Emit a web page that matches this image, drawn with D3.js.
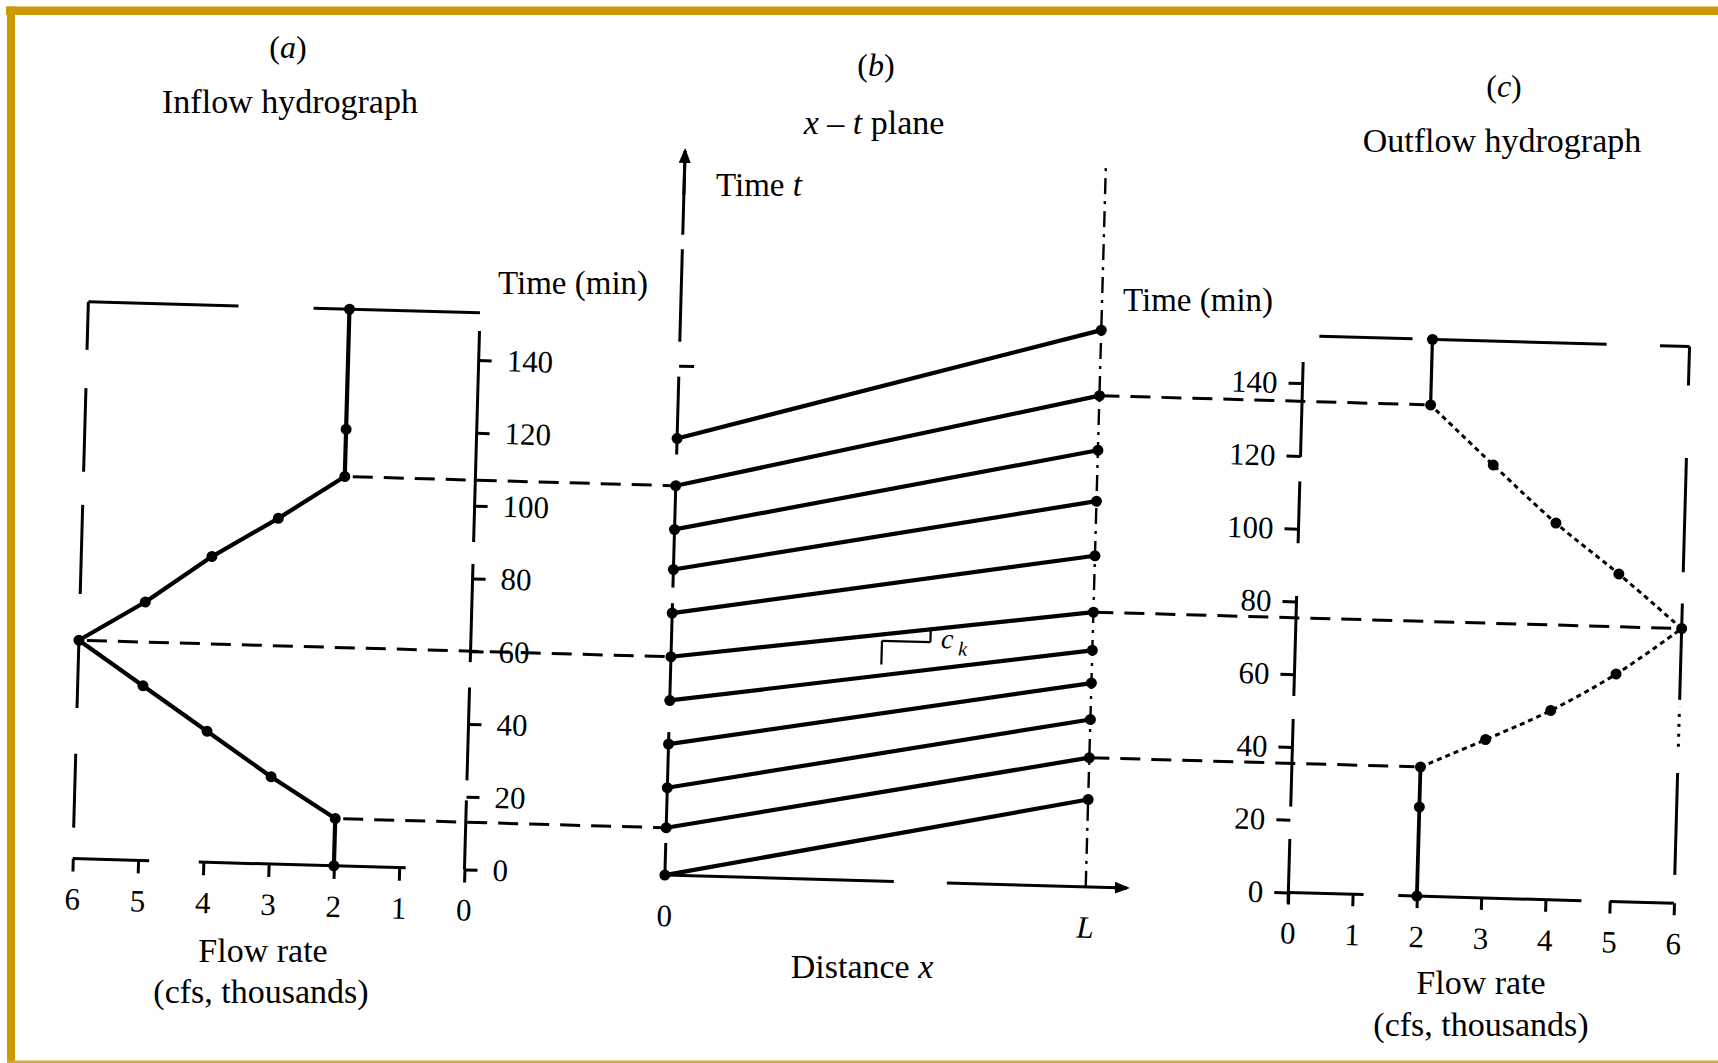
<!DOCTYPE html>
<html>
<head>
<meta charset="utf-8">
<script src="https://cdn.jsdelivr.net/npm/d3@7"></script>
<style>
  body { margin: 0; background: #fff; }
  svg { display: block; }
  text { font-family: "Liberation Serif", "Times New Roman", serif; fill: #000; }
</style>
</head>
<body>
<svg id="chart" width="1718" height="1063"></svg>
<script>
// ---------------- DATA ----------------
// (a) Inflow hydrograph: time (min) and flow (cfs, thousands)
const inflowTime = [0, 13, 24, 36, 48, 60, 71, 84, 95, 107, 120, 153];
const inflowFlow = [2, 2, 3, 4, 5, 6, 5, 4, 3, 2, 2, 2];
// (b) x-t plane: kinematic characteristics, time at x = 0 and time at x = L
const charStartTime = [0, 13, 24, 36, 48, 60, 72, 84, 95, 107, 120];
const charEndTime = [24, 35.5, 46, 56, 65, 75.5, 91, 106, 120, 135, 153];
// (c) Outflow hydrograph
const outflowTime = [0, 24.5, 35.5, 43.5, 52, 62.5, 75.5, 90, 103.5, 119, 135, 153];
const outflowFlow = [2, 2, 2, 3, 4, 5, 6, 5, 4, 3, 2, 2];
// Tick values / labels
const timeTicks = [0, 20, 40, 60, 80, 100, 120, 140];
const flowTicks = [0, 1, 2, 3, 4, 5, 6];
const distanceTicks = [0, 1];
const distanceTickLabels = ["0", "L"];
// dashed projections (indices into inflow / outflow arrays)
const inflowLinks = [1, 5, 9];
const outflowLinks = [2, 6, 10];
// c_k slope sketch in the x-t plane (distance fraction, time)
const ckU = [0.5, 0.615];
const ckT = [59.5, 66];
const frameTopTime = 153;
const planeTopTime = 199;
const planeDistMax = 1.098;
// visible pieces of the scanned lines (data units)
const inflowTimeAxisSpans = [[0, 19], [24.5, 50], [57, 84], [90, 148]];
const inflowFlowAxisSpans = [[0.9, 4.07], [4.83, 6]];
const inflowTopSpans = [[0, 2.55], [3.7, 6]];
const inflowPeakLineSpans = [[8.5, 28.8], [41.4, 58.7], [72.7, 97.2], [106.3, 129.3], [139.8, 153]];
const planeTimeAxisSpans = [[0, 8.8], [13.2, 39.3], [48, 74.7], [79, 107], [115.6, 137], [146.6, 172], [176, 199]];
const planeDistAxisSpans = [[0, 0.544], [0.67, 1.098]];
const outflowTimeAxisSpans = [[-3, 14.7], [23.6, 47.7], [54, 81.5], [96, 113], [119.7, 145.8]];
const outflowFlowAxisSpans = [[0, 1.17], [1.71, 4.56], [5, 6]];
const outflowTopSpans = [[0.24, 1.69], [2.05, 4.71], [5.54, 6]];
const outflowPeakLineSpans = [[7.8, 35.8], [55.9, 82.4], [91, 122.4], [142.3, 153]];
const outflowPeakLineDotted = [[43, 54]];

// ---------------- DRAWING ----------------
const svg = d3.select("#chart");
svg.append("rect").attr("width", 1718).attr("height", 1063).attr("fill", "#fff");
const gold = "#CC9A06";
svg.append("rect").attr("x", 6).attr("y", 6.5).attr("width", 1712).attr("height", 8.5).attr("fill", gold);
svg.append("rect").attr("x", 7).attr("y", 6.5).attr("width", 8).attr("height", 1056.5).attr("fill", gold);
svg.append("rect").attr("x", 7).attr("y", 1060.5).attr("width", 1711).attr("height", 2.5).attr("fill", "#D2AA3C");

// scanned figure is slightly rotated
const g = svg.append("g").attr("transform", "rotate(1.6,464.5,868)");

const yT = d3.scaleLinear().domain([0, 140]).range([869.5, 869.5 - 3.64 * 140]);
const xA = d3.scaleLinear().domain([0, 6]).range([464.5, 72.7]);
const xB = d3.scaleLinear().domain([0, 1]).range([665, 1086]);
const xC = d3.scaleLinear().domain([0, 6]).range([1288.7, 1674.5]);
const intFmt = d3.format("d");

function line(x1, y1, x2, y2, w, dash) {
  const l = g.append("line").attr("x1", x1).attr("y1", y1).attr("x2", x2).attr("y2", y2)
    .attr("stroke", "#000").attr("stroke-width", w);
  if (dash) l.attr("stroke-dasharray", dash);
  return l;
}
function vSpans(xpx, spans, w, dash) { spans.forEach(s => line(xpx, yT(s[0]), xpx, yT(s[1]), w, dash)); }
function hSpans(scale, ypx, spans, w, dash) { spans.forEach(s => line(scale(s[0]), ypx, scale(s[1]), ypx, w, dash)); }
function styleAxis(sel, fs) {
  sel.select(".domain").remove();
  sel.attr("font-family", '"Liberation Serif", "Times New Roman", serif').attr("font-size", fs);
  sel.selectAll(".tick line").attr("stroke", "#000").attr("stroke-width", 3);
  sel.selectAll(".tick text").attr("fill", "#000");
}
function dots(data, xs, ys, r) {
  g.append("g").selectAll("circle").data(data).join("circle")
    .attr("cx", xs).attr("cy", ys).attr("r", r).attr("fill", "#000");
}

// arrow marker
const defs = svg.append("defs");
defs.append("marker").attr("id", "arrow").attr("viewBox", "0 0 10 10").attr("refX", 8).attr("refY", 5)
  .attr("markerWidth", 5).attr("markerHeight", 5).attr("orient", "auto").attr("markerUnits", "strokeWidth")
  .append("path").attr("d", "M0,1 L10,5 L0,9 Z").attr("fill", "#000");

// ---------- (a) Inflow hydrograph ----------
const axA = g.append("g").attr("transform", `translate(${xA(0)},0)`)
  .call(d3.axisRight(yT).tickValues(timeTicks).tickFormat(intFmt).tickSize(13).tickPadding(15));
styleAxis(axA, 31);
vSpans(xA(0), inflowTimeAxisSpans, 3);
const axAx = g.append("g").attr("transform", `translate(0,${yT(0)})`)
  .call(d3.axisBottom(xA).tickValues(flowTicks).tickFormat(intFmt).tickSize(13).tickPadding(16));
styleAxis(axAx, 31);
hSpans(xA, yT(0), inflowFlowAxisSpans, 3);
hSpans(xA, yT(frameTopTime), inflowTopSpans, 3);
vSpans(xA(6), inflowPeakLineSpans, 3);

const inflowPts = inflowTime.map((t, i) => ({ t, q: inflowFlow[i] }));
g.append("path").datum(inflowPts)
  .attr("d", d3.line().x(d => xA(d.q)).y(d => yT(d.t)))
  .attr("fill", "none").attr("stroke", "#000").attr("stroke-width", 4.2).attr("stroke-linejoin", "round");
dots(inflowPts, d => xA(d.q), d => yT(d.t), 5.5);

// ---------- (b) x - t plane ----------
vSpans(xB(0), planeTimeAxisSpans, 3);
line(xB(0), yT(planeTopTime - 12), xB(0), yT(planeTopTime), 3).attr("marker-end", "url(#arrow)");
const axBt = g.append("g").attr("transform", `translate(${xB(0)},0)`)
  .call(d3.axisRight(yT).tickValues([140]).tickSize(15).tickFormat(""));
styleAxis(axBt, 31);
hSpans(xB, yT(0), planeDistAxisSpans, 3);
line(xB(planeDistMax - 0.03), yT(0), xB(planeDistMax), yT(0), 3).attr("marker-end", "url(#arrow)");
line(xB(1), yT(0), xB(1), yT(planeTopTime), 2.4, "16,7,3,7");
const axBx = g.append("g").attr("transform", `translate(0,${yT(0)})`)
  .call(d3.axisBottom(xB).tickValues(distanceTicks).tickSize(0).tickPadding(29)
    .tickFormat((d, i) => distanceTickLabels[i]));
styleAxis(axBx, 31);
axBx.selectAll(".tick text").filter((d, i) => i === 1).attr("font-style", "italic");

const chars = charStartTime.map((t, i) => ({ t0: t, t1: charEndTime[i] }));
g.append("g").selectAll("line").data(chars).join("line")
  .attr("x1", xB(0)).attr("y1", d => yT(d.t0)).attr("x2", xB(1)).attr("y2", d => yT(d.t1))
  .attr("stroke", "#000").attr("stroke-width", 4.2);
dots(chars, () => xB(0), d => yT(d.t0), 5.5);
dots(chars, () => xB(1), d => yT(d.t1), 5.5);

// c_k slope sketch on the characteristic starting at 60 min
const ckLine = chars[5];
const tOnLine = u => ckLine.t0 + (ckLine.t1 - ckLine.t0) * u;
line(xB(ckU[0]), yT(ckT[1]), xB(ckU[1]), yT(ckT[1]), 2.2);
line(xB(ckU[1]), yT(ckT[1]), xB(ckU[1]), yT(tOnLine(ckU[1])), 2.2);
line(xB(ckU[0]), yT(ckT[1]), xB(ckU[0]), yT(ckT[0]), 2.2);
const ck = g.append("text").attr("x", xB(0.64)).attr("y", yT(64.5)).attr("font-size", 28);
ck.append("tspan").attr("font-style", "italic").text("c");
ck.append("tspan").attr("font-style", "italic").attr("font-size", 20).attr("dx", 5).attr("dy", 7).text("k");

// ---------- (c) Outflow hydrograph ----------
const axC = g.append("g").attr("transform", `translate(${xC(0)},0)`)
  .call(d3.axisLeft(yT).tickValues(timeTicks).tickFormat(intFmt).tickSize(14).tickPadding(11));
styleAxis(axC, 31);
vSpans(xC(0), outflowTimeAxisSpans, 3);
const axCx = g.append("g").attr("transform", `translate(0,${yT(0)})`)
  .call(d3.axisBottom(xC).tickValues(flowTicks).tickFormat(intFmt).tickSize(12).tickPadding(17));
styleAxis(axCx, 31);
hSpans(xC, yT(0), outflowFlowAxisSpans, 3);
hSpans(xC, yT(frameTopTime), outflowTopSpans, 3);
vSpans(xC(6), outflowPeakLineSpans, 3);
vSpans(xC(6), outflowPeakLineDotted, 3, "3,7");

const outPts = outflowTime.map((t, i) => ({ t, q: outflowFlow[i] }));
const outLine = d3.line().x(d => xC(d.q)).y(d => yT(d.t));
const outCurve = d3.line().x(d => xC(d.q)).y(d => yT(d.t)).curve(d3.curveCatmullRom);
g.append("path").datum(outPts.slice(0, 3)).attr("d", outLine)
  .attr("fill", "none").attr("stroke", "#000").attr("stroke-width", 3.8);
g.append("path").datum(outPts.slice(10)).attr("d", outLine)
  .attr("fill", "none").attr("stroke", "#000").attr("stroke-width", 3.2);
g.append("path").datum(outPts.slice(2, 7)).attr("d", outCurve)
  .attr("fill", "none").attr("stroke", "#000").attr("stroke-width", 3).attr("stroke-dasharray", "5,4");
g.append("path").datum(outPts.slice(6, 11)).attr("d", outCurve)
  .attr("fill", "none").attr("stroke", "#000").attr("stroke-width", 3).attr("stroke-dasharray", "5,4");
dots(outPts, d => xC(d.q), d => yT(d.t), 5.5);

// ---------- dashed projections ----------
inflowLinks.forEach(i => {
  line(xA(inflowFlow[i]) + 8, yT(inflowTime[i]), xB(0), yT(inflowTime[i]), 3, "20,11");
});
outflowLinks.forEach(i => {
  line(xB(1), yT(outflowTime[i]), xC(outflowFlow[i]) - 6, yT(outflowTime[i]), 3, "20,11");
});

// ---------- titles & axis names ----------
function label(x, y, size, parts, anchor) {
  const t = svg.append("text").attr("x", x).attr("y", y).attr("font-size", size)
    .attr("text-anchor", anchor || "middle");
  parts.forEach(p => {
    const s = t.append("tspan").text(p[0]);
    if (p[1]) s.attr("font-style", "italic");
  });
  return t;
}
label(288, 58, 32, [["("], ["a", true], [")"]]);
label(290, 113, 34, [["Inflow hydrograph"]]);
label(876, 76, 32, [["("], ["b", true], [")"]]);
label(874, 134, 34, [["x", true], [" – "], ["t", true], [" plane"]]);
label(1504, 97, 32, [["("], ["c", true], [")"]]);
label(1502, 152, 34, [["Outflow hydrograph"]]);
label(498, 294, 33, [["Time (min)"]], "start");
label(716, 196, 33, [["Time "], ["t", true]], "start");
label(1123, 311, 33, [["Time (min)"]], "start");
label(263, 962, 34, [["Flow rate"]]);
label(261, 1003, 34, [["(cfs, thousands)"]]);
label(862, 978, 34, [["Distance "], ["x", true]]);
label(1481, 994, 34, [["Flow rate"]]);
label(1481, 1036, 34, [["(cfs, thousands)"]]);
</script>
</body>
</html>
